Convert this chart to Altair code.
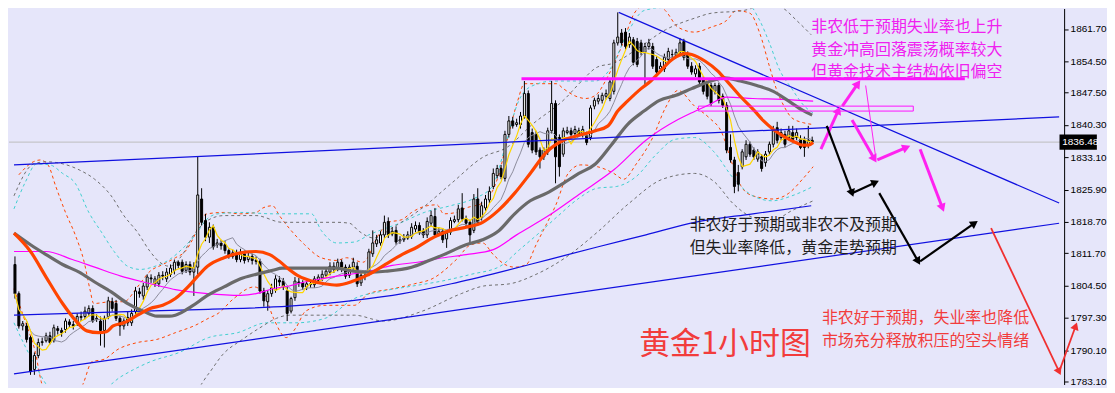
import math
import altair as alt
import pandas as pd

# ---------------- candle data (XAUUSD H1) ----------------
opens = [1809.2,1802.7,1795.5,1795.5,1792.9,1785.8,1788.9,1791.8,1792.2,1793.3,
1792.2,1794.9,1794.5,1794.7,1796.4,1795.8,1796.2,1797.4,1797.6,1798.3,
1799.4,1797.0,1796.6,1794.5,1797.6,1800.9,1800.5,1797.2,1795.5,1797.4,
1796.2,1798.7,1803.1,1802.2,1804.2,1806.2,1804.9,1804.9,1806.8,1806.0,
1807.0,1807.9,1809.7,1809.7,1807.9,1809.2,1807.5,1808.6,1823.8,1819.0,
1815.3,1817.5,1813.6,1814.0,1813.6,1812.3,1811.0,1811.8,1810.3,1811.6,
1810.3,1811.0,1810.1,1809.9,1803.3,1800.9,1802.7,1803.5,1805.7,1805.5,
1803.3,1798.8,1801.8,1805.3,1805.1,1804.2,1804.7,1804.7,1805.7,1806.2,
1806.8,1807.5,1808.8,1808.4,1809.7,1808.6,1806.8,1808.6,1808.8,1805.1,
1806.8,1807.3,1811.6,1813.8,1814.0,1815.8,1818.8,1816.0,1816.8,1814.4,
1814.7,1815.1,1815.5,1817.1,1817.9,1816.6,1815.8,1818.4,1819.9,1816.0,
1816.6,1814.9,1816.4,1818.8,1819.2,1821.8,1819.4,1818.6,1816.8,1823.8,
1819.7,1821.8,1823.6,1826.6,1829.0,1830.6,1828.4,1838.2,1841.2,1840.4,
1840.4,1842.3,1847.3,1838.6,1838.2,1834.7,1833.2,1834.3,1839.0,1845.1,
1837.5,1833.8,1838.6,1839.0,1838.4,1839.0,1838.2,1838.0,1837.5,1844.5,
1845.6,1845.8,1846.7,1846.2,1847.8,1858.6,1860.8,1861.0,1858.2,1859.3,
1858.9,1858.6,1856.5,1857.8,1857.8,1854.9,1852.8,1852.8,1854.9,1856.0,
1855.8,1856.5,1858.9,1856.0,1853.4,1851.7,1853.4,1850.6,1849.5,1849.1,
1847.8,1849.1,1846.7,1844.7,1835.3,1832.5,1829.7,1831.0,1833.2,1836.0,
1834.7,1832.7,1833.2,1831.9,1834.3,1836.0,1839.7,1837.5,1838.2,1837.5,
1838.6,1837.5,1837.1,1836.9,1835.8,1836.9]
highs = [1811.0,1803.2,1796.6,1796.2,1793.3,1789.6,1792.7,1792.9,1794.0,1794.2,
1795.8,1795.5,1795.1,1797.2,1797.0,1796.6,1798.3,1798.7,1799.8,1800.1,
1800.1,1798.1,1797.6,1797.8,1802.0,1801.8,1801.3,1797.8,1797.2,1798.7,
1799.2,1804.2,1804.0,1805.1,1807.0,1807.0,1806.6,1807.5,1807.7,1808.4,
1809.2,1810.3,1810.1,1810.3,1809.9,1809.9,1809.7,1833.2,1826.2,1820.5,
1818.6,1818.1,1814.9,1814.7,1814.4,1812.9,1812.5,1812.5,1812.7,1812.3,
1811.8,1811.6,1811.0,1810.5,1804.0,1803.5,1804.9,1806.8,1806.6,1806.2,
1804.2,1802.0,1806.4,1806.2,1805.7,1805.5,1805.7,1806.6,1807.0,1807.9,
1808.6,1809.7,1809.7,1810.5,1810.3,1809.2,1809.2,1810.7,1809.7,1807.5,
1807.7,1812.7,1816.8,1815.8,1816.6,1820.1,1819.7,1817.5,1817.7,1815.5,
1816.0,1816.6,1818.4,1818.8,1818.6,1817.3,1819.7,1821.2,1821.8,1817.5,
1817.3,1816.8,1819.7,1820.1,1822.5,1825.1,1820.1,1819.2,1824.9,1826.2,
1823.2,1824.7,1826.6,1830.6,1831.4,1831.4,1839.0,1842.3,1842.1,1841.7,
1843.2,1850.1,1848.0,1839.5,1839.0,1835.3,1835.3,1839.7,1850.1,1845.8,
1838.2,1839.7,1839.9,1839.7,1840.1,1839.7,1840.1,1838.8,1844.7,1846.4,
1847.1,1847.5,1848.2,1850.6,1859.3,1865.4,1861.7,1861.9,1860.8,1859.9,
1859.7,1859.3,1858.6,1859.5,1858.6,1855.6,1854.3,1856.2,1857.5,1857.1,
1857.3,1859.7,1859.5,1856.7,1854.3,1853.6,1854.1,1851.2,1850.1,1849.7,
1849.7,1849.7,1847.3,1845.4,1838.2,1833.2,1831.4,1834.9,1836.9,1836.6,
1835.3,1834.9,1833.8,1834.5,1836.6,1840.1,1841.0,1839.5,1839.0,1840.1,
1840.1,1839.5,1838.0,1837.7,1840.1,1837.7]
lows = [1801.6,1794.9,1794.5,1791.8,1784.6,1784.6,1788.3,1791.1,1791.8,1791.4,
1791.8,1793.6,1793.1,1794.0,1795.1,1794.7,1795.5,1796.6,1797.0,1797.6,
1796.2,1796.4,1791.1,1790.7,1797.0,1798.7,1796.6,1793.3,1794.7,1795.5,
1795.5,1797.8,1801.8,1801.3,1803.5,1805.1,1804.2,1804.2,1805.7,1805.3,
1806.4,1807.0,1808.4,1807.0,1807.3,1806.8,1802.2,1807.0,1817.9,1814.4,
1814.0,1812.5,1812.9,1812.5,1811.6,1810.5,1810.5,1809.7,1809.7,1809.4,
1809.7,1809.2,1809.2,1802.7,1799.8,1798.9,1802.0,1802.9,1804.4,1803.5,
1796.6,1798.3,1801.1,1804.2,1803.5,1803.5,1804.0,1804.0,1805.1,1805.5,
1806.2,1806.8,1807.3,1807.7,1807.5,1806.0,1806.2,1807.9,1804.2,1804.4,
1805.7,1806.6,1810.9,1813.1,1813.4,1815.1,1815.1,1815.5,1813.6,1813.8,
1814.2,1814.7,1814.9,1816.4,1815.8,1815.1,1815.1,1817.7,1815.1,1815.5,
1814.0,1812.9,1815.8,1818.4,1818.6,1818.8,1817.7,1814.0,1816.2,1817.9,
1819.0,1821.2,1822.9,1826.0,1828.4,1828.2,1827.7,1837.5,1839.5,1839.9,
1839.5,1841.7,1835.3,1834.0,1833.6,1830.6,1832.5,1833.6,1838.4,1827.3,
1828.8,1833.2,1838.2,1837.5,1837.7,1837.7,1837.5,1835.8,1836.9,1843.8,
1844.9,1845.1,1846.0,1845.6,1847.1,1858.0,1858.0,1857.1,1857.5,1853.6,
1853.2,1855.8,1849.1,1857.1,1852.8,1851.5,1852.1,1852.1,1854.3,1855.2,
1855.2,1855.8,1854.7,1852.8,1851.5,1851.0,1849.3,1847.1,1846.0,1844.5,
1847.1,1845.1,1844.1,1834.0,1831.9,1825.1,1825.5,1830.4,1832.5,1833.2,
1832.5,1832.1,1829.9,1831.0,1833.6,1835.3,1836.2,1836.9,1835.3,1836.9,
1836.4,1836.9,1834.9,1833.2,1835.1,1836.2]
closes = [1802.7,1795.5,1796.0,1792.5,1785.3,1788.9,1791.8,1792.0,1793.3,1791.8,
1795.1,1794.5,1794.0,1796.6,1795.8,1795.5,1797.6,1797.6,1798.8,1799.4,
1796.6,1797.2,1794.5,1797.2,1801.1,1799.4,1797.2,1795.5,1796.6,1796.2,
1798.3,1803.3,1802.7,1804.4,1806.4,1806.0,1806.0,1806.8,1806.6,1807.5,
1808.4,1809.7,1809.0,1807.7,1809.2,1807.5,1808.6,1824.7,1818.6,1815.3,
1817.5,1813.1,1814.0,1813.4,1812.3,1811.0,1811.8,1810.3,1811.8,1810.1,
1811.0,1810.1,1809.9,1803.3,1801.1,1802.7,1804.0,1806.0,1805.3,1804.2,
1798.3,1801.6,1805.5,1805.1,1804.2,1804.9,1804.9,1806.0,1806.4,1807.0,
1807.7,1808.8,1808.1,1809.7,1808.1,1806.6,1808.6,1809.7,1804.9,1806.8,
1806.6,1812.0,1814.0,1814.7,1815.8,1818.6,1815.8,1816.6,1814.2,1814.7,
1815.1,1815.8,1817.5,1817.9,1816.4,1815.8,1818.8,1820.1,1815.8,1816.6,
1814.7,1816.2,1819.0,1819.2,1821.6,1819.4,1818.4,1815.8,1823.8,1818.6,
1822.3,1823.8,1825.5,1829.5,1830.6,1828.8,1838.2,1841.2,1840.1,1840.8,
1842.3,1847.3,1836.0,1834.7,1834.3,1833.2,1834.7,1839.0,1845.1,1833.2,
1831.0,1839.0,1839.0,1838.2,1839.3,1838.4,1839.3,1836.4,1844.1,1845.8,
1846.2,1846.9,1847.3,1849.9,1858.6,1859.9,1858.6,1857.8,1859.9,1854.3,
1853.8,1856.5,1857.8,1858.6,1853.4,1852.1,1853.4,1855.4,1856.7,1856.0,
1856.5,1858.6,1855.4,1853.4,1852.1,1852.8,1849.9,1847.8,1846.7,1845.1,
1849.1,1845.8,1844.7,1834.7,1832.5,1826.6,1827.1,1834.3,1836.0,1833.8,
1833.2,1834.3,1830.6,1833.8,1836.0,1839.3,1836.9,1838.6,1836.0,1839.0,
1837.1,1838.6,1835.3,1835.3,1836.9,1836.48]

current_price = 1836.48
tick_values = [1861.7, 1854.5, 1847.5, 1840.3, 1833.1, 1825.9, 1818.7, 1811.7, 1804.5, 1797.3, 1790.1, 1783.1]

# ---------------- indicator lines (bar index, price) ----------------
orange_bar = [-0.25,4,8,12.25,15.5,18.5,21.5,23.5,25.25,28,31.5,34.75,38,41.25,44.5,47,49.5,53.75,58,62,65.5,68,70.5,73,76.25,79.5,82.75,87,91,95.25,99.5,103.5,107.75,112,116,120.25,124.25,128.5,132.5,136.75,141,145,149.25,152.5,155,157.5,161,163.5,165.75,169,172.5,174,177.5,180.75,183.25,186.5,190,192.5,195,198.25,200.75,202.5,204,205.25]
orange_val = [1816.2,1812.1,1806.4,1800.5,1796.8,1794.4,1794.0,1794.2,1795.5,1796.2,1797.9,1799.4,1800.1,1801.6,1804.2,1806.6,1808.8,1810.7,1811.8,1812.1,1811.4,1809.9,1808.1,1806.6,1805.5,1804.9,1804.6,1805.5,1807.0,1809.2,1811.4,1813.1,1815.3,1816.8,1817.5,1818.6,1821.2,1825.1,1829.5,1834.3,1836.9,1838.0,1839.0,1840.1,1843.4,1845.6,1848.4,1850.1,1852.1,1854.9,1856.2,1856.0,1854.5,1852.3,1849.9,1846.7,1843.6,1841.2,1839.3,1837.5,1836.4,1835.8,1835.8,1836.4]

gray_bar = [-0.25,4,8,12.25,16.5,20.5,24.75,29,33,36.5,39.75,41.25,45.5,49.5,53.75,58,62,66.25,68.75,82.75,87,91,95.25,102,106,110.25,116,120.25,124.25,128.5,132.5,136.75,141,145,149.25,153.5,157.5,161.75,165.75,170,174,178.25,182.5,186.5,190.75,195,199,202.5,205]
gray_val = [1816.2,1813.6,1811.4,1809.2,1807.5,1805.3,1803.1,1800.5,1798.8,1797.7,1797.7,1797.9,1799.9,1802.3,1804.2,1806.0,1807.0,1807.9,1808.4,1808.4,1807.7,1807.5,1807.7,1808.6,1809.9,1811.4,1813.6,1814.7,1816.6,1820.5,1823.4,1825.1,1827.3,1829.5,1831.6,1836.0,1840.4,1843.4,1845.8,1846.9,1848.4,1849.9,1850.8,1850.1,1849.1,1847.8,1845.6,1843.6,1842.5]

mag_bar = [-0.25,8,14.75,20.5,27.25,33,37.25,41.25,49.5,58,62,66.25,70.5,74.5,78.75,82.75,91,97,103.5,110.25,116,123,129,137.25,145.5,154,162.25,170.5,174.75,178.25,183,189.75,197.25,205.25]
mag_val = [1812.1,1812.1,1810.3,1808.6,1806.6,1805.3,1804.4,1803.6,1802.7,1802.3,1802.7,1803.8,1804.4,1805.3,1806.0,1806.6,1807.7,1809.0,1809.7,1810.7,1811.4,1812.5,1815.8,1820.1,1825.1,1830.3,1836.9,1841.5,1843.3,1844.7,1846.5,1846.2,1846.0,1845.6]

blue_bar = [-0.25,24.75,49.75,70.5,87.25,99.75,112.25,124.75,137.25,149.75,162.25,174.75,189.75,204.75]
blue_val = [1797.9,1798.6,1799.2,1799.9,1801.2,1802.7,1804.9,1807.5,1810.3,1813.1,1815.8,1818.6,1820.5,1822.3]

ou_bar = [1.0,4.75,6.5,8.5,10.5,13.0,15.5,17.75,19.25,20.25,24.75,28.0,31.5,34.75,38.0,41.25,43.75,46.25,48.0,49.5,53.75,58.0,62.0,63.75,66.25,68.0,70.5,74.5,78.75,82.75,85.25,89.5,93.5,96.0,99.5,102.0,106.0,108.5,110.25,113.5,116.0,120.25,122.75,124.25,126.75,129.25,131.0,134.25,139.25,141.0,144.25,146.75,149.25,152.5,156.0,159.25,162.25,164.0,167.25,170.5,174.75,179.0,183.0,185.5,189.0,191.5,194.0,195.75,197.75,199.75,202.75,205.25]
ou_val = [1829.2,1832.1,1832.5,1831.4,1826.6,1820.8,1815.8,1809.9,1803.8,1800.5,1800.9,1800.9,1804.2,1807.7,1809.2,1810.7,1812.1,1815.8,1819.5,1820.5,1820.8,1820.5,1820.8,1821.8,1822.3,1820.1,1817.3,1813.6,1810.7,1810.1,1810.7,1809.7,1815.8,1818.6,1819.2,1820.8,1822.3,1822.5,1820.5,1820.8,1821.8,1822.9,1825.5,1828.8,1837.5,1845.6,1849.5,1849.5,1849.5,1848.4,1846.7,1846.2,1846.9,1851.2,1857.8,1865.2,1867.3,1867.6,1865.8,1862.1,1861.0,1862.1,1863.6,1865.8,1865.2,1860.8,1853.4,1848.4,1844.5,1841.9,1840.8,1840.4]

ol_bar = [-0.25,2.75,5.25,6.75,8.0,16.0,17.75,19.75,23.0,26.5,31.5,36.5,41.25,46.5,49.75,52.25,56.25,61.5,64.0,66.5,69.75,72.25,74.75,79.75,87.25,91.0,97.25,102.75,107.25,113.5,117.25,120.25,123.0,126.0,128.5,131.5,134.0,136.5,139.0,142.25,145.5,149.75,154.0,156.5,159.75,164.0,167.25,170.5,174.75,178.5,181.75,184.25,186.75,189.75,195.0,199.0,202.5,205.25]
ol_val = [1803.8,1796.2,1789.6,1783.1,1779.8,1779.8,1783.1,1787.5,1788.1,1790.3,1791.8,1792.5,1794.0,1795.7,1797.2,1798.3,1801.6,1804.2,1802.7,1797.2,1792.9,1795.1,1798.8,1800.1,1800.1,1802.7,1803.8,1804.9,1806.0,1810.3,1813.6,1814.0,1811.4,1809.2,1808.6,1809.2,1813.6,1817.9,1822.3,1829.5,1831.4,1831.0,1829.5,1828.2,1831.6,1837.5,1844.1,1848.0,1844.5,1841.9,1838.6,1832.1,1826.6,1824.5,1823.8,1825.1,1828.2,1831.0]

cu_bar = [-0.25,2.75,5.5,9.0,12.25,15.5,19.0,22.25,25.5,29.0,32.25,36.0,39.75,43.5,46.75,49.0,52.25,58.0,66.25,76.25,78.75,82.75,87.25,91.0,99.5,105.25,112.0,117.75,122.75,126.0,129.25,132.5,138.5,149.25,153.5,157.5,161.75,166.5,172.25,179.0,184.75,188.0,191.5,194.0,196.5,199.75,203.0,205.25]
cu_val = [1821.6,1827.7,1831.6,1831.4,1829.5,1827.3,1820.8,1816.4,1812.1,1808.8,1808.1,1808.8,1810.3,1813.1,1816.2,1819.0,1820.5,1820.8,1820.5,1820.5,1816.8,1814.0,1814.2,1815.8,1818.6,1820.8,1822.3,1823.8,1826.6,1835.3,1845.1,1848.8,1850.1,1850.1,1853.4,1860.8,1865.8,1866.5,1866.9,1866.9,1867.3,1867.6,1863.6,1858.6,1852.8,1848.4,1844.5,1843.0]

cl_bar = [-0.25,4.75,9.75,22.25,27.25,34.75,42.25,49.75,57.25,64.75,72.25,79.75,87.25,94.75,102.25,109.75,117.25,124.75,129.75,134.75,139.75,144.75,149.75,154.75,159.75,164.75,169.75,174.75,179.75,184.75,189.75,194.75,199.75,205.25]
cl_val = [1796.2,1787.5,1781.4,1781.4,1784.2,1787.5,1789.6,1792.9,1794.0,1796.2,1796.2,1797.2,1801.6,1803.3,1804.4,1805.5,1807.0,1808.8,1812.5,1816.2,1820.1,1823.8,1826.2,1826.6,1828.8,1833.6,1837.1,1837.5,1834.3,1828.4,1824.5,1823.4,1824.5,1826.6]

gu_bar = [-0.25,4.75,8.0,16.5,20.5,24.75,28.0,31.5,34.75,37.25,39.75,42.75,46.0,49.5,53.75,62.0,68.75,82.75,86.0,88.5,92.25,97.25,104.75,112.25,120.5,126.5,133.0,141.5,145.5,149.75,154.0,159.75,167.25,174.75,179.0,187.25,194.0,197.25,201.0,204.75]
gu_val = [1824.5,1831.6,1832.1,1830.3,1828.2,1824.5,1820.1,1816.4,1812.1,1809.7,1808.8,1811.0,1815.8,1819.0,1820.1,1820.1,1818.6,1818.6,1818.4,1816.6,1815.1,1817.5,1821.8,1827.3,1833.2,1835.3,1840.4,1846.2,1849.9,1853.2,1854.1,1857.1,1861.5,1864.1,1865.2,1865.8,1867.3,1866.5,1863.6,1860.4]

gl_bar = [-0.25,44.75,49.75,53.5,58.5,63.0,67.25,70.5,87.25,94.75,104.75,114.75,120.5,127.25,134.0,141.5,149.75,158.0,166.5,174.75,179.75,184.75,189.75,194.75,199.75,205.25]
gl_val = [1779.8,1779.8,1784.8,1789.2,1792.5,1795.1,1797.2,1797.9,1797.9,1796.6,1798.8,1802.7,1804.4,1804.9,1807.0,1810.7,1816.4,1822.9,1828.2,1829.5,1827.7,1822.7,1819.7,1819.0,1821.2,1823.4]

# trend lines: (bar1, price1, bar2, price2)
trend_lines = [(-0.25, 1831.4, 268.5, 1842.1),
               (-0.25, 1784.8, 268.5, 1818.4),
               (155.25, 1865.4, 268.5, 1822.9)]

# ---------------- scales ----------------
X_DOMAIN = [-0.25, 268.5]
Y_DOMAIN = [1782.45, 1866.26]
W, H = 1058, 377
SX = W / (X_DOMAIN[1] - X_DOMAIN[0])
SY = H / (Y_DOMAIN[1] - Y_DOMAIN[0])

xscale = alt.Scale(domain=X_DOMAIN, nice=False, zero=False)
yscale = alt.Scale(domain=Y_DOMAIN, nice=False, zero=False)
yaxis = alt.Axis(orient="right", values=tick_values, format=".2f", title=None, grid=False,
                 labelFontSize=10, labelFont="Liberation Sans", labelColor="black",
                 tickColor="black", tickSize=4, domainColor="black", labelPadding=2,
                 labelOverlap=False, labelFlush=False)


def xq(f):
    return alt.X(f, type="quantitative", scale=xscale, axis=None)


def yq(f):
    return alt.Y(f, type="quantitative", scale=yscale, axis=yaxis)


def line_layer(xs, ys, color, width, dash=None, interp="monotone"):
    m = min(len(xs), len(ys))
    df = pd.DataFrame({"bar": xs[:m], "price": ys[:m]})
    kw = dict(color=color, strokeWidth=width, clip=True, interpolate=interp)
    if dash:
        kw["strokeDash"] = dash
    return alt.Chart(df).mark_line(**kw).encode(x=xq("bar"), y=yq("price"))


n = min(len(opens), len(highs), len(lows), len(closes))
candles = pd.DataFrame({"bar": list(range(n)), "open": opens[:n], "high": highs[:n],
                        "low": lows[:n], "close": closes[:n]})
base = alt.Chart(candles)

wicks = base.mark_rule(color="black", strokeWidth=1, clip=True).encode(
    x=xq("bar"), y=yq("low"), y2=alt.Y2("high"))
bodies = base.transform_calculate(
    fillc="datum.close >= datum.open ? 'white' : 'black'"
).mark_bar(width=2, stroke="black", strokeWidth=1, clip=True).encode(
    x=xq("bar"), y=yq("open"), y2=alt.Y2("close"), fill=alt.Fill("fillc:N", scale=None))

ma5 = base.transform_window(ma5="mean(close)", frame=[-4, 0], sort=[alt.SortField("bar")]).mark_line(
    color="#FFD700", strokeWidth=1.2, clip=True).encode(x=xq("bar"), y=yq("ma5"))
ma10 = base.transform_window(ma10="mean(close)", frame=[-9, 0], sort=[alt.SortField("bar")]).mark_line(
    color="#8C8C9C", strokeWidth=1, clip=True).encode(x=xq("bar"), y=yq("ma10"))

DASH = [3, 3]
bands = [
    line_layer(ou_bar, ou_val, "#FF4500", 1, DASH),
    line_layer(ol_bar, ol_val, "#FF4500", 1, DASH),
    line_layer(cu_bar, cu_val, "#40CFCF", 1, DASH),
    line_layer(cl_bar, cl_val, "#40CFCF", 1, DASH),
    line_layer(gu_bar, gu_val, "#6E6E6E", 1, DASH),
    line_layer(gl_bar, gl_val, "#6E6E6E", 1, DASH),
]

mas = [
    line_layer(mag_bar, mag_val, "#FF00FF", 1.2),
    line_layer(blue_bar, blue_val, "#1010E0", 1.2),
    line_layer(gray_bar, gray_val, "#6A6A6A", 3.2),
    line_layer(orange_bar, orange_val, "#FF4500", 3.2),
]

price_line = alt.Chart(pd.DataFrame({"price": [current_price]})).mark_rule(
    color="#BDBDBD", strokeWidth=1).encode(y=yq("price"))

tl_df = pd.DataFrame(trend_lines, columns=["b1", "p1", "b2", "p2"])
trends = alt.Chart(tl_df).mark_rule(color="#1010E0", strokeWidth=1.2).encode(
    x=xq("b1"), x2=alt.X2("b2"), y=yq("p1"), y2=alt.Y2("p2"))

# ---------------- annotations ----------------
level_df = pd.DataFrame({"b1": [130.25], "b2": [244.25], "p": [1850.6]})
level = alt.Chart(level_df).mark_rule(color="#FF10FF", strokeWidth=3).encode(
    x=xq("b1"), x2=alt.X2("b2"), y=yq("p"))
box_df = pd.DataFrame({"b1": [175.75], "b2": [231.0], "p1": [1844.5], "p2": [1843.4]})
zone = alt.Chart(box_df).mark_rect(fillOpacity=0, stroke="#FF10FF", strokeWidth=1).encode(
    x=xq("b1"), x2=alt.X2("b2"), y=yq("p1"), y2=alt.Y2("p2"))


def arrows(segs, color, width, head_size, heads=True):
    rows = []
    for b1, p1, b2, p2 in segs:
        dx = (b2 - b1) * SX
        dy = -(p2 - p1) * SY
        ang = math.degrees(math.atan2(dx, -dy)) % 360
        rows.append({"b1": b1, "p1": p1, "b2": b2, "p2": p2, "ang": ang})
    df = pd.DataFrame(rows)
    lines = alt.Chart(df).mark_rule(color=color, strokeWidth=width).encode(
        x=xq("b1"), x2=alt.X2("b2"), y=yq("p1"), y2=alt.Y2("p2"))
    if not heads:
        return [lines]
    hd = alt.Chart(df).mark_point(shape="triangle-up", filled=True, color=color, size=head_size,
                                  opacity=1).encode(
        x=xq("b2"), y=yq("p2"), angle=alt.Angle("ang:Q", scale=None))
    return [lines, hd]


MAG = "#FF22F0"
mag_arrows = [(207.25, 1834.9, 211.75, 1843.6), (212.75, 1844.5, 216.75, 1849.5),
              (215.25, 1841.4, 221.0, 1832.7), (221.75, 1832.5, 229.25, 1835.3),
              (232.75, 1834.9, 238.5, 1821.8)]
mag_thin = [(218.75, 1849.1, 221.25, 1833.6)]
blk_arrows = [(208.75, 1840.1, 215.25, 1825.1), (215.25, 1825.1, 221.25, 1827.5),
              (222.25, 1825.1, 232.25, 1809.9), (232.75, 1809.9, 246.75, 1818.4)]
red_arrows = [(251.0, 1817.3, 268.5, 1785.3), (268.5, 1785.3, 272.75, 1795.5)]

arrow_layers = []
arrow_layers += arrows(mag_thin, MAG, 1, 0, heads=False)
arrow_layers += arrows(mag_arrows, MAG, 3, 90)
arrow_layers += arrows(blk_arrows, "#000000", 2.2, 80)
arrow_layers += arrows(red_arrows, "#F03030", 1.8, 75)

CJK = "Noto Sans CJK SC"
mag_text = pd.DataFrame({"bar": [204.75] * 3, "price": [1862.1, 1857.1, 1852.1],
                         "t": ["非农低于预期失业率也上升", "黄金冲高回落震荡概率较大", "但黄金技术主结构依旧偏空"]})
blk_text = pd.DataFrame({"bar": [173.5] * 2, "price": [1818.0, 1812.9],
                         "t": ["非农好于预期或非农不及预期", "但失业率降低，黄金走势预期"]})
red_text = pd.DataFrame({"bar": [207.5] * 2, "price": [1797.2, 1792.1],
                         "t": ["非农好于预期，失业率也降低", "市场充分释放积压的空头情绪"]})
big_text = pd.DataFrame({"bar": [160.5], "price": [1791.2], "t": ["黄金1小时图"]})


def text_layer(df, color, size):
    return alt.Chart(df).mark_text(align="left", baseline="middle", font=CJK, fontSize=size,
                                   color=color).encode(x=xq("bar"), y=yq("price"), text="t:N")


texts = [text_layer(mag_text, "#F020F0", 16), text_layer(blk_text, "#1E1E1E", 16),
         text_layer(red_text, "#F23C3C", 16), text_layer(big_text, "#F23C3C", 31)]

# current price tag on the axis
tag_df = pd.DataFrame({"b1": [268.6], "b2": [278.2], "p1": [current_price - 1.7],
                       "p2": [current_price + 1.7], "bt": [269.3], "p": [current_price],
                       "t": [f"{current_price:.2f}"]})
tag_box = alt.Chart(tag_df).mark_rect(color="black").encode(
    x=xq("b1"), x2=alt.X2("b2"), y=yq("p1"), y2=alt.Y2("p2"))
tag_txt = alt.Chart(tag_df).mark_text(align="left", baseline="middle", color="white", fontSize=10,
                                      font="Liberation Sans").encode(
    x=xq("bt"), y=yq("p"), text="t:N")

layers = [price_line] + bands + [wicks, bodies, ma10, ma5] + mas + [trends, level, zone] + \
    arrow_layers + texts + [tag_box, tag_txt]

chart = alt.layer(*layers).properties(
    width=W, height=H, background="#E6E6FA", padding=0
).configure_view(strokeWidth=0)

chart.save("out.html", embed_options={"renderer": "svg", "actions": False})
